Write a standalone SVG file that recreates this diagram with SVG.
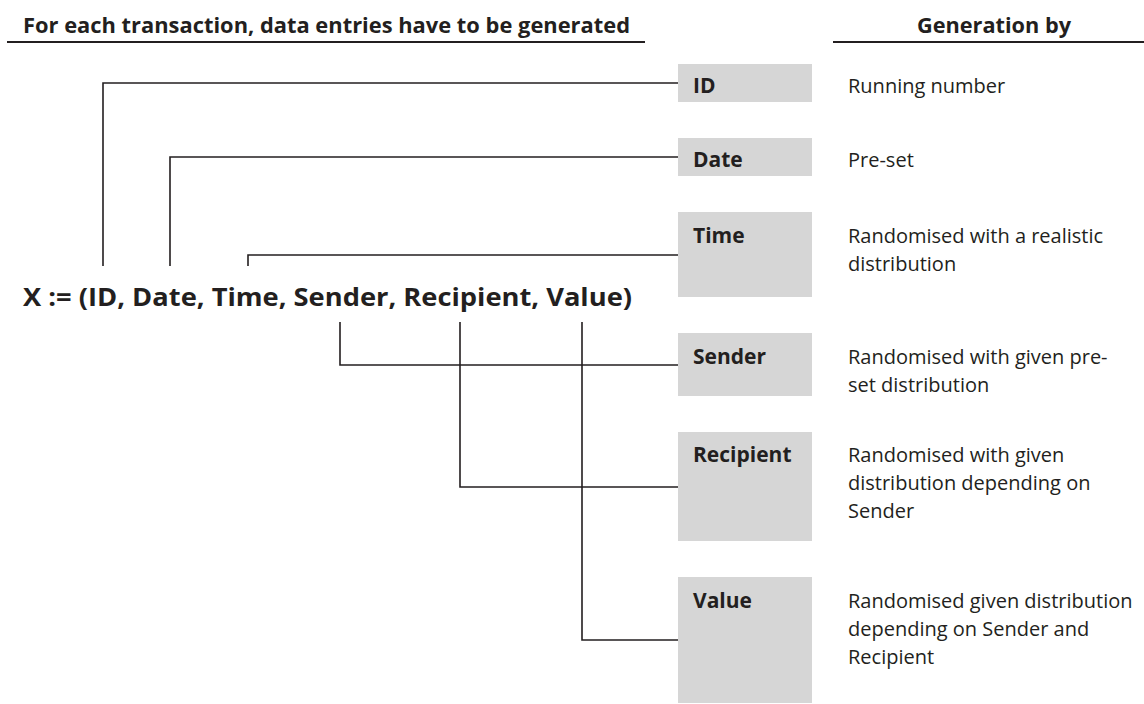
<svg xmlns="http://www.w3.org/2000/svg" width="1144" height="704" viewBox="0 0 1144 704">
<style>
  .hdr { font-family: "Open Sans", "Liberation Sans", sans-serif; font-weight: 700; font-size: 20.5px; fill: #231f20; }
  .formula { font-family: "Open Sans", "Liberation Sans", sans-serif; font-weight: 700; font-size: 25px; fill: #231f20; }
  .lbl { font-family: "Open Sans", "Liberation Sans", sans-serif; font-weight: 700; font-size: 21px; fill: #231f20; }
  .desc { font-family: "Open Sans", "Liberation Sans", sans-serif; font-size: 20px; fill: #231f20; }
  .box { fill: #d6d6d6; }
  .rule { stroke: #231f20; stroke-width: 2; fill: none; }
  .conn { stroke: #231f20; stroke-width: 1.6; fill: none; }
</style>
<rect width="1144" height="704" fill="#ffffff"/>
<g id="header">
  <text class="hdr" x="23" y="33" textLength="607" lengthAdjust="spacingAndGlyphs">For each transaction, data entries have to be generated</text>
  <line class="rule" x1="7" y1="42" x2="645" y2="42"/>
  <text class="hdr" x="917" y="33" textLength="154" lengthAdjust="spacingAndGlyphs">Generation by</text>
  <line class="rule" x1="833" y1="42" x2="1144" y2="42"/>
</g>
<g id="formula">
  <text class="formula" x="23" y="306" textLength="609" lengthAdjust="spacingAndGlyphs">X := (ID, Date, Time, Sender, Recipient, Value)</text>
</g>
<g id="connectors">
  <polyline class="conn" points="103,266 103,83 678,83"/>
  <polyline class="conn" points="170,266 170,157 678,157"/>
  <polyline class="conn" points="248,266 248,255 678,255"/>
  <polyline class="conn" points="340,322 340,365 678,365"/>
  <polyline class="conn" points="460,322 460,487 678,487"/>
  <polyline class="conn" points="582,322 582,640 678,640"/>
</g>
<g id="node-id">
  <rect class="box" x="678" y="64" width="134" height="38"/>
  <text class="lbl" x="693" y="93">ID</text>
  <text class="desc" x="848" y="93">Running number</text>
</g>
<g id="node-date">
  <rect class="box" x="678" y="138" width="134" height="38"/>
  <text class="lbl" x="693" y="167">Date</text>
  <text class="desc" x="848" y="167">Pre-set</text>
</g>
<g id="node-time">
  <rect class="box" x="678" y="212" width="134" height="85"/>
  <text class="lbl" x="693" y="243">Time</text>
  <text class="desc" x="848" y="243">Randomised with a realistic</text>
  <text class="desc" x="848" y="271">distribution</text>
</g>
<g id="node-sender">
  <rect class="box" x="678" y="333" width="134" height="63"/>
  <text class="lbl" x="693" y="364">Sender</text>
  <text class="desc" x="848" y="364">Randomised with given pre-</text>
  <text class="desc" x="848" y="392">set distribution</text>
</g>
<g id="node-recipient">
  <rect class="box" x="678" y="432" width="134" height="109"/>
  <text class="lbl" x="693" y="462">Recipient</text>
  <text class="desc" x="848" y="462">Randomised with given</text>
  <text class="desc" x="848" y="490">distribution depending on</text>
  <text class="desc" x="848" y="518">Sender</text>
</g>
<g id="node-value">
  <rect class="box" x="678" y="577" width="134" height="126"/>
  <text class="lbl" x="693" y="608">Value</text>
  <text class="desc" x="848" y="608">Randomised given distribution</text>
  <text class="desc" x="848" y="636">depending on Sender and</text>
  <text class="desc" x="848" y="664">Recipient</text>
</g>
</svg>
